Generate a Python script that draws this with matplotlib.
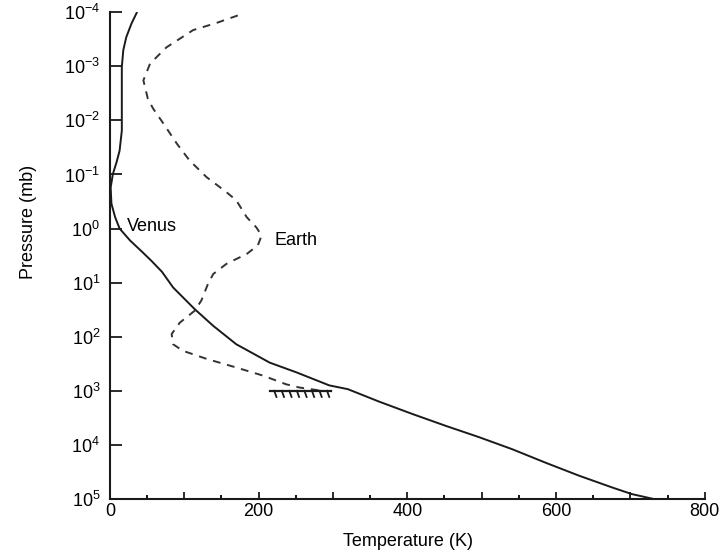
import numpy as np
import matplotlib.pyplot as plt
from matplotlib.ticker import FixedLocator, FuncFormatter

plt.rcParams['font.family'] = ['Liberation Sans', 'DejaVu Sans']
plt.rcParams['mathtext.fontset'] = 'custom'
plt.rcParams['mathtext.rm'] = 'Liberation Sans'
plt.rcParams['mathtext.default'] = 'regular'

# Venus temperature profile: T (K) and log10 of pressure (mb)
venus_T = [36, 29, 22, 18, 16, 16, 16, 13, 9, 4, 1, 2, 7, 13, 27, 44, 56,
           70, 85, 114, 139, 170, 215, 251, 295, 320, 362, 407, 452,
           497, 541, 586, 631, 676, 702, 731]
venus_logP = [-3.99, -3.79, -3.54, -3.3, -2.99, -2.2, -1.81, -1.44, -1.23,
              -1.01, -0.76, -0.46, -0.21, 0.0, 0.22, 0.44, 0.6, 0.8, 1.09,
              1.49, 1.80, 2.14, 2.48, 2.66, 2.9, 2.97, 3.2, 3.43, 3.65,
              3.86, 4.08, 4.33, 4.57, 4.79, 4.91, 5.0]

# Earth temperature profile
earth_T = [172, 143, 112, 76, 54, 45, 51, 58, 72, 90, 107, 130, 157, 170, 184,
           197, 204, 199, 184, 157, 139, 132, 123, 114, 94, 83, 85, 98, 130,
           170, 206, 237, 255, 285]
earth_logP = [-3.94, -3.8, -3.67, -3.35, -3.05, -2.74, -2.4, -2.22, -1.94,
              -1.57, -1.26, -0.95, -0.67, -0.52, -0.21, -0.02, 0.13, 0.31, 0.47,
              0.65, 0.84, 1.02, 1.33, 1.52, 1.74, 1.95, 2.14, 2.26, 2.41, 2.57,
              2.72, 2.88, 2.94, 3.0]

# Earth surface
ground_T = [215, 298]
ground_P = 1000
n_hatch = 8

fig = plt.figure(figsize=(7.28, 5.55), dpi=100)
ax = fig.add_axes([0.151, 0.101, 0.817, 0.877])

ax.plot(venus_T, 10 ** np.array(venus_logP), color='#1a1a1a', lw=1.4)
ax.plot(earth_T, 10 ** np.array(earth_logP), color='#333333', lw=1.4,
        dashes=(4, 3.5))

# ground line with hatching
ax.plot(ground_T, [ground_P, ground_P], color='#1a1a1a', lw=1.6)
for t in np.linspace(ground_T[0] + 6, ground_T[1] - 6, n_hatch):
    ax.plot([t, t + 3], [ground_P, ground_P * 1.3], color='#1a1a1a', lw=1.3)

ax.text(23, 10 ** -0.04, 'Venus', fontsize=13, va='center', ha='left')
ax.text(221, 10 ** 0.22, 'Earth', fontsize=13, va='center', ha='left')

ax.set_yscale('log')
ax.set_ylim(1e5, 1e-4)
ax.set_xlim(0, 800)

ax.yaxis.set_major_locator(FixedLocator([10.0 ** k for k in range(-4, 6)]))
ax.yaxis.set_minor_locator(FixedLocator([]))
ax.xaxis.set_major_locator(FixedLocator(range(0, 801, 100)))
ax.xaxis.set_minor_locator(FixedLocator(range(50, 801, 100)))
ax.xaxis.set_major_formatter(FuncFormatter(lambda v, p: '%d' % v if v % 200 == 0 else ''))

ax.tick_params(axis='y', which='major', direction='in', length=8.5, width=1.3,
               labelsize=13, pad=7, color='#1a1a1a')
ax.tick_params(axis='x', which='major', direction='in', length=5, width=1.3,
               labelsize=13, pad=3, color='#1a1a1a')
ax.tick_params(axis='x', which='minor', direction='in', length=3, width=1.3)

for s in ['top', 'right']:
    ax.spines[s].set_visible(False)
for s in ['left', 'bottom']:
    ax.spines[s].set_linewidth(1.5)
    ax.spines[s].set_color('#1a1a1a')

fig.text(29 / 728, 1 - 222 / 555, 'Pressure (mb)', fontsize=13, rotation=90,
         ha='center', va='center')
fig.text(0.56, 1 - 542 / 555, 'Temperature (K)', fontsize=13,
         ha='center', va='center')

fig.savefig('out.png', dpi=100)
